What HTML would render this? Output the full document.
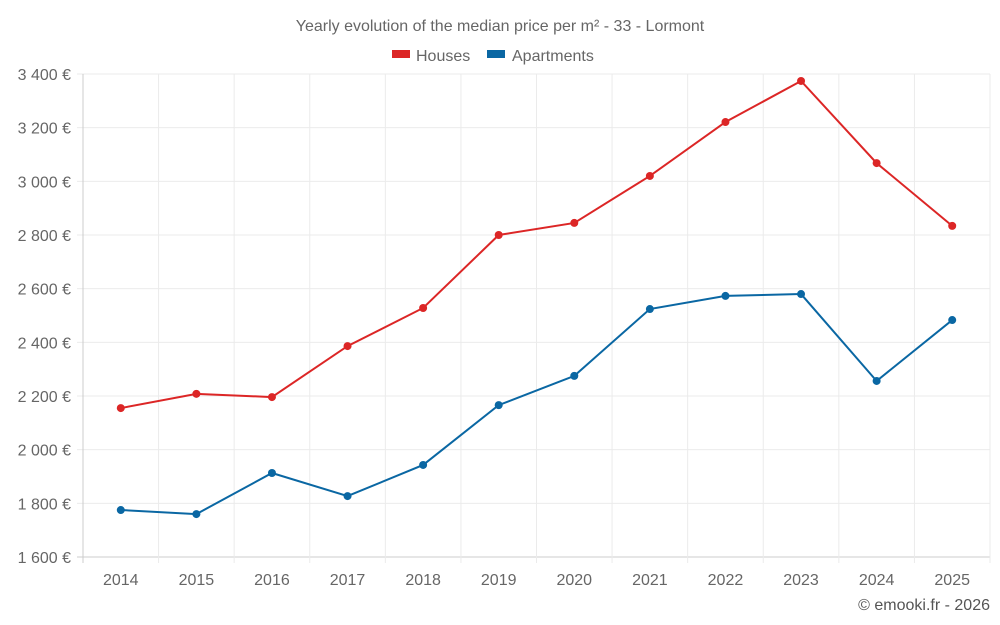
<!DOCTYPE html>
<html><head><meta charset="utf-8"><style>
body{margin:0;background:#fff;}
svg{display:block;font-family:"Liberation Sans",sans-serif;}
</style></head><body>
<svg id="chart" width="1000" height="625">
<text x="500" y="31" text-anchor="middle" font-size="16" fill="#666">Yearly evolution of the median price per m² - 33 - Lormont</text>
<g><rect x="392" y="50" width="18" height="8" fill="#dc2626"/><text x="416" y="61" font-size="16" fill="#666">Houses</text></g>
<g><rect x="487" y="50" width="18" height="8" fill="#0a67a3"/><text x="512" y="61" font-size="16" fill="#666">Apartments</text></g>
<g id="grid"></g><g id="series"></g>
<text x="990" y="610" text-anchor="end" font-size="16" fill="#555">© emooki.fr - 2026</text>
</svg>
<script>
const years=["2014","2015","2016","2017","2018","2019","2020","2021","2022","2023","2024","2025"];
const houses=[2155,2208,2196,2386,2528,2800,2845,3020,3221,3374,3068,2834];
const apartments=[1775,1760,1913,1827,1943,2166,2275,2524,2573,2580,2256,2483];
const yTicks=[1600,1800,2000,2200,2400,2600,2800,3000,3200,3400];
const L=83,R=990,T=74,B=557,yMin=1600,yMax=3400;
const bw=(R-L)/years.length;
const x=i=>L+bw*(i+0.5);
const y=v=>B-(v-yMin)/(yMax-yMin)*(B-T);
const NS="http://www.w3.org/2000/svg";
const g=document.getElementById('grid'),s=document.getElementById('series');
function mk(t,a,p){const e=document.createElementNS(NS,t);for(const k in a)e.setAttribute(k,a[k]);p.appendChild(e);return e;}
yTicks.forEach(v=>{
 const l=mk('line',{x1:L-6,x2:R,y1:y(v),y2:y(v),stroke:v===yMin?'#ccc':'#ebebeb'},g);
 
 
 const t=mk('text',{x:L-12,y:y(v)+6,'text-anchor':'end','font-size':16,fill:'#666'},g);
 t.textContent=String(v).replace(/(\d)(\d{3})$/,'$1 $2')+' €';
 
 
});
for(let i=0;i<=years.length;i++){
 const l=mk('line',{x1:L+bw*i,x2:L+bw*i,y1:T,y2:B+(i<years.length+1?6:0),stroke:i===0?'#ccc':'#ebebeb'},g);
 
 
}
years.forEach((yr,i)=>{
 const t=mk('text',{x:x(i),y:585,'text-anchor':'middle','font-size':16,fill:'#666'},g);
 t.textContent=yr;
 
 
});
function draw(vals,col,name){
 const p=mk('polyline',{points:vals.map((v,i)=>x(i)+','+y(v)).join(' '),fill:'none',stroke:col,'stroke-width':2},s);
 
 
 vals.forEach((v,i)=>{
  const c=mk('circle',{cx:x(i),cy:y(v),r:4,fill:col},s);
  
  
 });
}
draw(houses,'#dc2626','houses');
draw(apartments,'#0a67a3','apartments');
</script>
</body></html>
